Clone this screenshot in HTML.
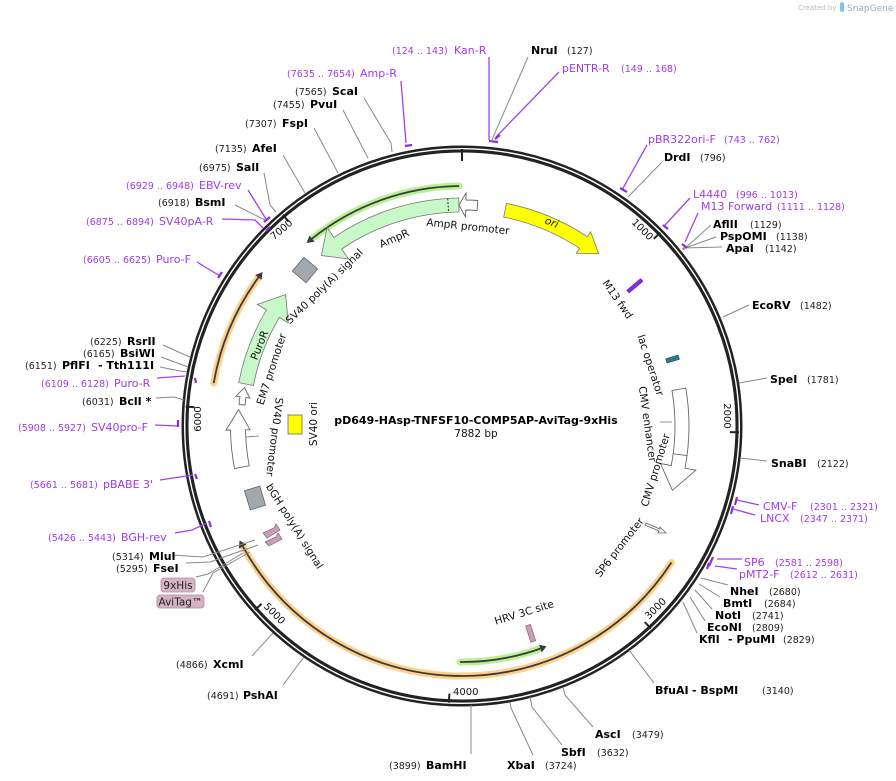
<!DOCTYPE html>
<html><head><meta charset="utf-8"><style>
html,body{margin:0;padding:0;background:#fff;}
svg{display:block;}
text{font-family:"DejaVu Sans","Liberation Sans",sans-serif;}
.n{font-size:9.5px;fill:#222;}
.b{font-size:11px;font-weight:bold;fill:#000;}
.p{font-size:11px;fill:#a03ae8;}
.pn{font-size:9.5px;fill:#a03ae8;}
.f{font-size:10.5px;fill:#111;}
.lg{stroke:#888;stroke-width:1;fill:none;}
.lp{stroke:#a040f0;stroke-width:1.3;fill:none;}
.bar{stroke:#8a2be2;stroke-width:2.2;fill:none;}
</style></head><body>
<svg width="896" height="781" viewBox="0 0 896 781" xmlns="http://www.w3.org/2000/svg">
<rect width="896" height="781" fill="#fff"/>
<text x="798" y="10" style="font-size:7px;fill:#bbb">Created by</text>
<rect x="840" y="2" width="4" height="10" rx="2" fill="#7cc4ec"/>
<text x="847" y="11" style="font-size:9px;fill:#9ab">SnapGene</text>

<circle cx="462" cy="426" r="277" fill="none" stroke="#222" stroke-width="7"/>
<circle cx="462" cy="426" r="277.3" fill="none" stroke="#fff" stroke-width="1.4"/>

<g stroke="#222" stroke-width="2">
<line x1="462" y1="149" x2="462" y2="161" transform="rotate(0 462 426)"/>
<line x1="462" y1="149" x2="462" y2="158" transform="rotate(45.7 462 426)"/>
<line x1="462" y1="149" x2="462" y2="158" transform="rotate(91.3 462 426)"/>
<line x1="462" y1="149" x2="462" y2="158" transform="rotate(137 462 426)"/>
<line x1="462" y1="149" x2="462" y2="158" transform="rotate(182.7 462 426)"/>
<line x1="462" y1="149" x2="462" y2="158" transform="rotate(228.4 462 426)"/>
<line x1="462" y1="149" x2="462" y2="158" transform="rotate(274 462 426)"/>
<line x1="462" y1="149" x2="462" y2="158" transform="rotate(319.7 462 426)"/>
</g>
<g style="font-size:10px;fill:#111">
<text x="643" y="233" text-anchor="middle" transform="rotate(45 643 229)">1000</text>
<text x="728" y="420" text-anchor="middle" transform="rotate(90 728 416)">2000</text>
<text x="655" y="612" text-anchor="middle" transform="rotate(-45 655 608)">3000</text>
<text x="453" y="695">4000</text>
<text x="275" y="617" text-anchor="middle" transform="rotate(45 275 613)">5000</text>
<text x="197" y="423" text-anchor="middle" transform="rotate(-90 197 419)">6000</text>
<text x="281" y="233" text-anchor="middle" transform="rotate(-40 281 229)">7000</text>
</g>

<path d="M459.1,186 A240 240 0 0 0 312,238.7" fill="none" stroke="#b8f094" stroke-width="7" stroke-linecap="round"/>
<path d="M459.1,186 A240 240 0 0 0 312,238.7" fill="none" stroke="#3a3a3a" stroke-width="1.8"/>
<polygon points="306.5,243 309.5,235.6 314.5,241.8" fill="#3a3a3a"/>

<path d="M213.7,383.1 A252 252 0 0 1 258.4,277.5" fill="none" stroke="#fdd08c" stroke-width="7" stroke-linecap="round"/>
<path d="M213.7,383.1 A252 252 0 0 1 258.4,277.5" fill="none" stroke="#3a3a3a" stroke-width="1.8"/>
<polygon points="262.5,272 255.2,275.1 261.6,279.9" fill="#3a3a3a"/>

<path d="M671.4,562.5 A250 250 0 0 1 242.9,546.5" fill="none" stroke="#fdd08c" stroke-width="7" stroke-linecap="round"/>
<path d="M671.4,562.5 A250 250 0 0 1 242.9,546.5" fill="none" stroke="#3a3a3a" stroke-width="1.8"/>
<polygon points="239.5,540.5 238.9,548.6 246.6,544.4" fill="#3a3a3a"/>

<path d="M460,662 A236 236 0 0 0 540.4,648.6" fill="none" stroke="#b8f094" stroke-width="7" stroke-linecap="round"/>
<path d="M460,662 A236 236 0 0 0 540.4,648.6" fill="none" stroke="#3a3a3a" stroke-width="1.8"/>
<polygon points="546.5,646.4 541.7,652.4 539.1,644.8" fill="#3a3a3a"/>

<path d="M506.5,203.4 A227 227 0 0 1 587.3,236.7 L590.6,231.7 L598.6,253.6 L576.2,253.4 L579.6,248.4 A213 213 0 0 0 503.7,217.1 Z" fill="#ffff00" stroke="#777" stroke-width="0.8"/>
<path d="M458.8,198 A228 228 0 0 0 333.8,237.4 L327.1,227.5 L321.4,255.5 L348.5,258.9 L341.7,249 A214 214 0 0 1 459,212 Z" fill="#c8f7c8" stroke="#777" stroke-width="0.8"/>
<line x1="447.7" y1="198.5" x2="448.6" y2="212.4" stroke="#333" stroke-width="1" stroke-dasharray="2,1.5"/>
<path d="M477.8,200.5 A226 226 0 0 0 465.9,200 L466.1,193 L458.9,205 L465.6,217 L465.8,210 A216 216 0 0 1 477.1,210.5 Z" fill="#fff" stroke="#666" stroke-width="0.9"/>
<path d="M238.7,382.6 A227.5 227.5 0 0 1 266.4,309.9 L257.3,304.5 L285.6,294.5 L288.3,322.9 L279.3,317.5 A212.5 212.5 0 0 0 253.4,385.5 Z" fill="#c8f7c8" stroke="#777" stroke-width="0.8"/>
<path d="M239,404.5 L239.9,396.8 L235.9,396.2 L244.4,387.6 L249.8,398.1 L245.9,397.6 L245,405.1 Z" fill="#fff" stroke="#666" stroke-width="0.9"/>
<path d="M234.5,468.6 A231.5 231.5 0 0 1 230.5,430 L226,430.1 L238.6,409.6 L250,429.7 L245.5,429.8 A216.5 216.5 0 0 0 249.2,465.8 Z" fill="#fff" stroke="#666" stroke-width="0.9"/>
<line x1="246" y1="437" x2="259" y2="436" stroke="#777" stroke-width="0.8"/>
<path d="M685.8,388.1 A227 227 0 0 1 685,468.2 L695.9,470.2 L672.4,490.3 L660.5,463.5 L671.3,465.6 A213 213 0 0 0 672,390.5 Z" fill="#fff" stroke="#666" stroke-width="0.9"/>
<line x1="687" y1="455.6" x2="673.2" y2="453.8" stroke="#666" stroke-width="0.9"/>
<line x1="660" y1="422" x2="672" y2="422" stroke="#777" stroke-width="0.8"/>

<rect x="296" y="261" width="18" height="18" fill="#a3a7ae" stroke="#666" stroke-width="0.8" transform="rotate(40 305 270)"/>
<rect x="288" y="415" width="14" height="19" fill="#ffff00" stroke="#666" stroke-width="0.8"/>
<rect x="247" y="488" width="16" height="20" fill="#a3a7ae" stroke="#666" stroke-width="0.8" transform="rotate(-17 255 498)"/>
<g fill="#c9a0b6" stroke="#8a6078" stroke-width="0.7">
<polygon points="263,533 274,528 276,524 280,530 267,538" />
<polygon points="265,542 276,537 278,533 282,539 269,546" />
</g>
<rect x="528" y="625" width="5" height="17" fill="#c9a0b6" stroke="#8a6078" stroke-width="0.7" transform="rotate(-18 530 633)"/>
<rect x="666" y="357" width="13" height="4.5" fill="#2a7a8c" stroke="#1d5560" stroke-width="0.6" transform="rotate(-17 672 359)"/>
<rect x="626" y="284" width="18" height="3.5" fill="#8a2be2" stroke="#5a1a9a" stroke-width="0.6" transform="rotate(-40 635 286)"/>
<polygon points="646,523 660,529 660,527 666,533 658,533 659,531 645,525" fill="#fff" stroke="#666" stroke-width="0.8"/>

<text class="f" x="468" y="230" text-anchor="middle" transform="rotate(6 468 226)">AmpR promoter</text>
<text class="f" x="552" y="226" text-anchor="middle" font-style="italic" transform="rotate(22 552 222)">ori</text>
<text class="f" x="394" y="242" text-anchor="middle" transform="rotate(-24 394 238)">AmpR</text>
<text class="f" x="324" y="290" text-anchor="middle" transform="rotate(-44 324 286)">SV40 poly(A) signal</text>
<text class="f" x="259" y="349" text-anchor="middle" transform="rotate(-68 259 345)">PuroR</text>
<text class="f" x="271" y="373" text-anchor="middle" transform="rotate(-72 271 369)">EM7 promoter</text>
<text class="f" x="275" y="441" text-anchor="middle" transform="rotate(97 275 437)">SV40 promoter</text>
<text class="f" x="313" y="428" text-anchor="middle" transform="rotate(-90 313 424)">SV40 ori</text>
<text class="f" x="295" y="530" text-anchor="middle" transform="rotate(58 295 526)">bGH poly(A) signal</text>
<text class="f" x="524" y="616" text-anchor="middle" transform="rotate(-17 524 612)">HRV 3C site</text>
<text class="f" x="619" y="551" text-anchor="middle" transform="rotate(-52 619 547)">SP6 promoter</text>
<text class="f" x="655" y="474" text-anchor="middle" transform="rotate(-73 655 470)">CMV promoter</text>
<text class="f" x="648" y="428" text-anchor="middle" transform="rotate(82 648 424)">CMV enhancer</text>
<text class="f" x="651" y="369" text-anchor="middle" transform="rotate(72 651 365)">lac operator</text>
<text class="f" x="618" y="303" text-anchor="middle" transform="rotate(55 618 299)">M13 fwd</text>

<text x="476" y="424" text-anchor="middle" style="font-size:11px;font-weight:bold;fill:#000">pD649-HAsp-TNFSF10-COMP5AP-AviTag-9xHis</text>
<text x="476" y="437" text-anchor="middle" style="font-size:10.5px;fill:#111">7882 bp</text>

<path class="lp" d="M489,57 L489,140"/><path class="bar" d="M489,141 L498,142"/>
<path class="lg" d="M528,57 L491,142"/>
<path class="lp" d="M559,72 L496,137"/><path class="bar" d="M495,139 L500,135"/>
<path class="lp" d="M401,81 L406,143"/><path class="bar" d="M405,146 L412,145"/>
<path class="lg" d="M364,98 L391,143 L392,152"/>
<path class="lg" d="M343,110 L368,158"/>
<path class="lg" d="M314,128 L338,173"/>
<path class="lg" d="M283,155 L305,193"/>
<path class="lg" d="M264,173 L270,205 L276,212"/>
<path class="lp" d="M248,190 L266,219"/><path class="bar" d="M264,222 L270,217"/>
<path class="lg" d="M235,205 L265,220"/>
<path class="lp" d="M222,219 L255,220 L263,228"/><path class="bar" d="M266,231 L270,227"/>
<path class="lp" d="M197,262 L220,276"/><path class="bar" d="M218,278 L222,272"/>
<path class="lg" d="M163,345 L183,354 L190,357"/>
<path class="lg" d="M161,357 L180,364 L188,367"/>
<path class="lg" d="M160,367 L180,371 L187,372"/>
<path class="lp" d="M157,378 L185,376"/><path class="bar" d="M195,378 L196,383"/>
<path class="lg" d="M156,398 L174,397 L184,400"/>
<path class="lp" d="M155,425 L178,426"/><path class="bar" d="M178,420 L178,427"/>
<path class="lp" d="M160,480 L193,475"/><path class="bar" d="M195,474 L197,479"/>
<path class="lp" d="M175,533 L192,530 L207,523"/><path class="bar" d="M209,521 L211,527"/>
<path class="lg" d="M172,555 L203,557 L255,540"/>
<path class="lg" d="M186,563 L210,562 L258,545"/>
<path class="lg" d="M196,577 L208,574 L243,553"/>
<path class="lg" d="M203,592 L213,573 L250,552"/>
<path class="lg" d="M252,656 L273,633"/>
<path class="lg" d="M283,685 L304,657"/>
<path class="lg" d="M471,754 L471,705"/>
<path class="lg" d="M533,755 L511,708 L510,702"/>
<path class="lg" d="M562,745 L532,707 L530,697"/>
<path class="lg" d="M593,727 L565,695 L563,687"/>
<path class="lg" d="M654,683 L629,650"/>
<path class="lg" d="M697,633 L683,602"/>
<path class="lg" d="M705,621 L690,597"/>
<path class="lg" d="M712,609 L695,590"/>
<path class="lg" d="M720,597 L699,584"/>
<path class="lg" d="M728,585 L701,578"/>
<path class="lp" d="M737,569 L715,566"/><path class="bar" d="M709,563 L707,569"/>
<path class="lp" d="M742,559 L717,559"/><path class="bar" d="M713,557 L709,566"/>
<path class="lp" d="M755,515 L733,509"/><path class="bar" d="M733,506 L731,514"/>
<path class="lp" d="M759,505 L737,500"/><path class="bar" d="M737,497 L735,505"/>
<path class="lg" d="M767,461 L740,458"/>
<path class="lg" d="M767,378 L739,383"/>
<path class="lg" d="M749,305 L723,317"/>
<path class="lg" d="M722,247 L683,248"/>
<path class="lg" d="M716,237 L682,249"/>
<path class="lg" d="M711,225 L683,250"/>
<path class="lp" d="M698,213 L685,242"/><path class="bar" d="M682,244 L687,248"/>
<path class="lp" d="M690,198 L665,225"/><path class="bar" d="M663,225 L668,229"/>
<path class="lg" d="M662,162 L628,197"/>
<path class="lp" d="M647,145 L622,190"/><path class="bar" d="M620,188 L627,192"/>

<text class="pn" x="392" y="54">(124 .. 143)</text><text class="p" x="454" y="54">Kan-R</text>
<text class="b" x="531" y="54">NruI</text><text class="n" x="567" y="54">(127)</text>
<text class="p" x="562" y="72">pENTR-R</text><text class="pn" x="621" y="72">(149 .. 168)</text>
<text class="pn" x="287" y="77">(7635 .. 7654)</text><text class="p" x="360" y="77">Amp-R</text>
<text class="n" x="295" y="95">(7565)</text><text class="b" x="332" y="95">ScaI</text>
<text class="n" x="273" y="108">(7455)</text><text class="b" x="310" y="108">PvuI</text>
<text class="n" x="245" y="127">(7307)</text><text class="b" x="282" y="127">FspI</text>
<text class="n" x="215" y="152">(7135)</text><text class="b" x="252" y="152">AfeI</text>
<text class="n" x="199" y="171">(6975)</text><text class="b" x="236" y="171">SalI</text>
<text class="pn" x="126" y="189">(6929 .. 6948)</text><text class="p" x="199" y="189">EBV-rev</text>
<text class="n" x="158" y="206">(6918)</text><text class="b" x="195" y="206">BsmI</text>
<text class="pn" x="86" y="225">(6875 .. 6894)</text><text class="p" x="159" y="225">SV40pA-R</text>
<text class="pn" x="83" y="263">(6605 .. 6625)</text><text class="p" x="156" y="263">Puro-F</text>
<text class="n" x="90" y="345">(6225)</text><text class="b" x="127" y="345">RsrII</text>
<text class="n" x="83" y="357">(6165)</text><text class="b" x="120" y="357">BsiWI</text>
<text class="n" x="25" y="369">(6151)</text><text class="b" x="62" y="369">PflFI</text><text class="b" x="98" y="369">- Tth111I</text>
<text class="pn" x="41" y="387">(6109 .. 6128)</text><text class="p" x="114" y="387">Puro-R</text>
<text class="n" x="82" y="405">(6031)</text><text class="b" x="119" y="405">BclI *</text>
<text class="pn" x="18" y="431">(5908 .. 5927)</text><text class="p" x="91" y="431">SV40pro-F</text>
<text class="pn" x="30" y="488">(5661 .. 5681)</text><text class="p" x="103" y="488">pBABE 3'</text>
<text class="pn" x="48" y="541">(5426 .. 5443)</text><text class="p" x="121" y="541">BGH-rev</text>
<text class="n" x="112" y="560">(5314)</text><text class="b" x="149" y="560">MluI</text>
<text class="n" x="116" y="572">(5295)</text><text class="b" x="153" y="572">FseI</text>
<rect x="161" y="578" width="34" height="14" rx="3" fill="#d6b3c4" stroke="#b08aa0" stroke-width="0.8"/>
<text x="178" y="589" text-anchor="middle" style="font-size:10.5px;fill:#222">9xHis</text>
<rect x="157" y="595" width="47" height="13" rx="3" fill="#d6b3c4" stroke="#b08aa0" stroke-width="0.8"/>
<text x="180.5" y="605.5" text-anchor="middle" style="font-size:10.5px;fill:#222">AviTag™</text>
<text class="n" x="176" y="668">(4866)</text><text class="b" x="213" y="668">XcmI</text>
<text class="n" x="207" y="699">(4691)</text><text class="b" x="243" y="699">PshAI</text>
<text class="n" x="389" y="769">(3899)</text><text class="b" x="426" y="769">BamHI</text>
<text class="b" x="507" y="769">XbaI</text><text class="n" x="545" y="769">(3724)</text>
<text class="b" x="561" y="756">SbfI</text><text class="n" x="597" y="756">(3632)</text>
<text class="b" x="595" y="738">AscI</text><text class="n" x="632" y="738">(3479)</text>
<text class="b" x="655" y="694">BfuAI</text><text class="b" x="692" y="694">- BspMI</text><text class="n" x="762" y="694">(3140)</text>
<text class="b" x="699" y="643">KflI</text><text class="b" x="728" y="643">- PpuMI</text><text class="n" x="783" y="643">(2829)</text>
<text class="b" x="707" y="631">EcoNI</text><text class="n" x="752" y="631">(2809)</text>
<text class="b" x="715" y="619">NotI</text><text class="n" x="752" y="619">(2741)</text>
<text class="b" x="723" y="607">BmtI</text><text class="n" x="764" y="607">(2684)</text>
<text class="b" x="730" y="595">NheI</text><text class="n" x="769" y="595">(2680)</text>
<text class="p" x="739" y="578">pMT2-F</text><text class="pn" x="790" y="578">(2612 .. 2631)</text>
<text class="p" x="744" y="566">SP6</text><text class="pn" x="775" y="566">(2581 .. 2598)</text>
<text class="p" x="760" y="522">LNCX</text><text class="pn" x="800" y="522">(2347 .. 2371)</text>
<text class="p" x="763" y="510">CMV-F</text><text class="pn" x="810" y="510">(2301 .. 2321)</text>
<text class="b" x="771" y="467">SnaBI</text><text class="n" x="817" y="467">(2122)</text>
<text class="b" x="770" y="383">SpeI</text><text class="n" x="807" y="383">(1781)</text>
<text class="b" x="752" y="309">EcoRV</text><text class="n" x="800" y="309">(1482)</text>
<text class="b" x="726" y="252">ApaI</text><text class="n" x="765" y="252">(1142)</text>
<text class="b" x="720" y="240">PspOMI</text><text class="n" x="776" y="240">(1138)</text>
<text class="b" x="713" y="228">AflII</text><text class="n" x="750" y="228">(1129)</text>
<text class="p" x="701" y="210">M13 Forward</text><text class="pn" x="777" y="210">(1111 .. 1128)</text>
<text class="p" x="693" y="198">L4440</text><text class="pn" x="736" y="198">(996 .. 1013)</text>
<text class="b" x="664" y="161">DrdI</text><text class="n" x="700" y="161">(796)</text>
<text class="p" x="648" y="143">pBR322ori-F</text><text class="pn" x="724" y="143">(743 .. 762)</text>
</svg>
</body></html>
